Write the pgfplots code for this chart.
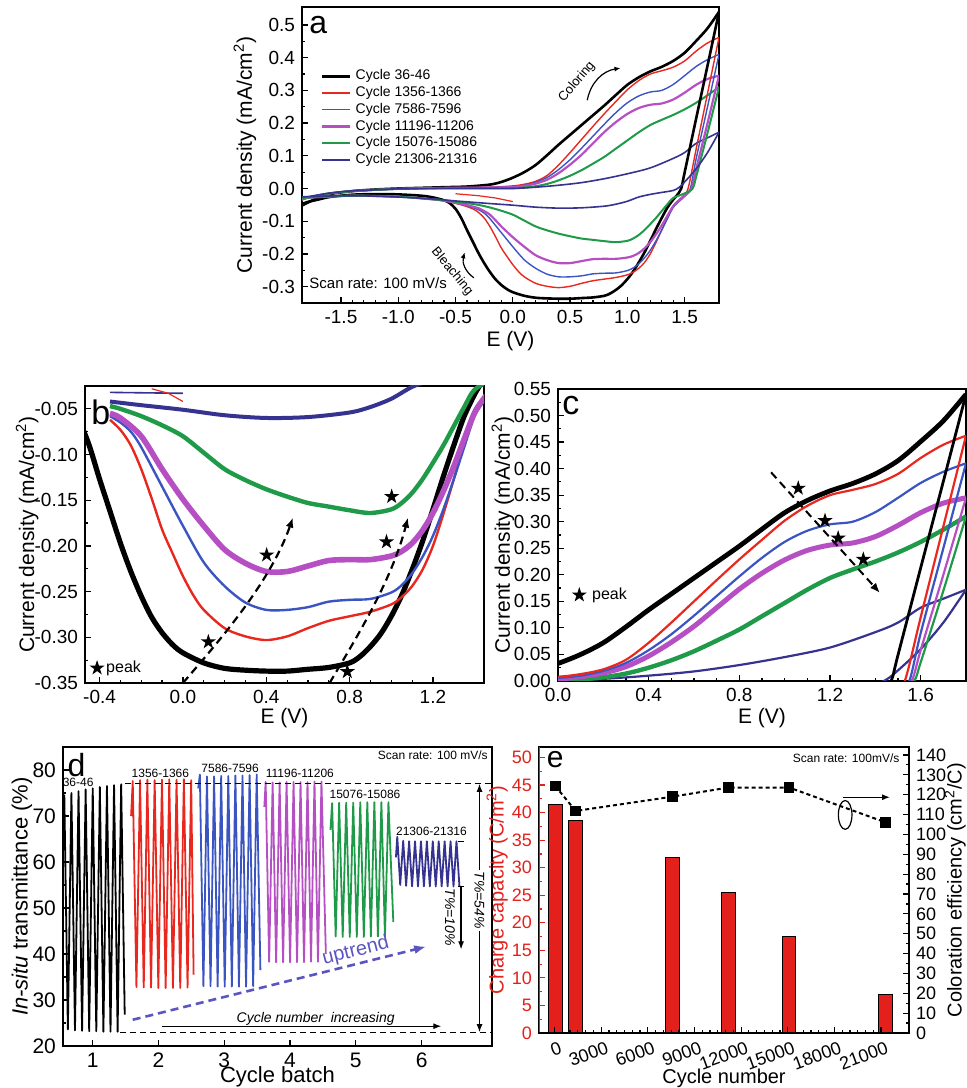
\documentclass[border=0pt]{standalone}
\usepackage{fontspec}
\setmainfont{Liberation Sans}
\usepackage{pgfplots}
\usepackage{pgfplotstable}
\pgfplotsset{compat=1.18}
\usetikzlibrary{arrows.meta}
\newcommand\fsz[1]{\fontsize{#1}{#1}\selectfont}
\definecolor{cred}{HTML}{E8281E}
\definecolor{cblue}{HTML}{3A55C2}
\definecolor{cmag}{HTML}{B64FC4}
\definecolor{cgreen}{HTML}{1E9A48}
\definecolor{cnavy}{HTML}{35338F}
\definecolor{cup}{HTML}{5A55C0}
\definecolor{cbar}{HTML}{E3201B}

\pgfdeclareplotmark{fstar}{%
 \pgfpathmoveto{\pgfpoint{0pt}{\pgfplotmarksize}}%
 \pgfpathlineto{\pgfpoint{-0.2245\pgfplotmarksize}{0.309\pgfplotmarksize}}%
 \pgfpathlineto{\pgfpoint{-0.951\pgfplotmarksize}{0.309\pgfplotmarksize}}%
 \pgfpathlineto{\pgfpoint{-0.363\pgfplotmarksize}{-0.118\pgfplotmarksize}}%
 \pgfpathlineto{\pgfpoint{-0.588\pgfplotmarksize}{-0.809\pgfplotmarksize}}%
 \pgfpathlineto{\pgfpoint{0pt}{-0.382\pgfplotmarksize}}%
 \pgfpathlineto{\pgfpoint{0.588\pgfplotmarksize}{-0.809\pgfplotmarksize}}%
 \pgfpathlineto{\pgfpoint{0.363\pgfplotmarksize}{-0.118\pgfplotmarksize}}%
 \pgfpathlineto{\pgfpoint{0.951\pgfplotmarksize}{0.309\pgfplotmarksize}}%
 \pgfpathlineto{\pgfpoint{0.2245\pgfplotmarksize}{0.309\pgfplotmarksize}}%
 \pgfpathclose\pgfusepathqfill}

% ---------- CV data (forward F and reverse R branches) ----------
\pgfplotstableread{
x y
-1.84 -0.052
-1.8 -0.045
-1.7 -0.028
-1.6 -0.017
-1.4 -0.008
-1.2 -0.003
-1.0 0.0
-0.8 0.002
-0.6 0.004
-0.4 0.006
-0.2 0.012
-0.1 0.02
0.0 0.033
0.1 0.05
0.2 0.072
0.3 0.102
0.4 0.134
0.5 0.164
0.6 0.194
0.7 0.224
0.8 0.254
0.9 0.286
1.0 0.317
1.1 0.34
1.2 0.358
1.3 0.372
1.4 0.39
1.5 0.415
1.6 0.451
1.7 0.49
1.8 0.54
}\bkF
\pgfplotstableread{
x y
1.8 0.54
1.7 0.376
1.6 0.213
1.5 0.049
1.47 0.0
1.43 -0.022
1.4 -0.034
1.35 -0.058
1.3 -0.09
1.25 -0.124
1.2 -0.16
1.15 -0.195
1.1 -0.226
1.05 -0.254
1.0 -0.277
0.95 -0.296
0.9 -0.31
0.85 -0.321
0.8 -0.328
0.7 -0.333
0.6 -0.335
0.5 -0.337
0.4 -0.337
0.3 -0.336
0.2 -0.334
0.1 -0.328
0.0 -0.317
-0.05 -0.308
-0.1 -0.295
-0.15 -0.278
-0.2 -0.255
-0.25 -0.228
-0.3 -0.197
-0.35 -0.162
-0.4 -0.127
-0.45 -0.09
-0.5 -0.062
-0.55 -0.045
-0.6 -0.036
-0.7 -0.027
-0.8 -0.022
-1.0 -0.018
-1.2 -0.017
-1.4 -0.019
-1.6 -0.026
-1.7 -0.034
-1.8 -0.042
-1.84 -0.048
}\bkR
\pgfplotstableread{
x y
-1.84 -0.036
-1.8 -0.03
-1.6 -0.016
-1.4 -0.008
-1.2 -0.004
-1.0 -0.001
-0.6 0.002
-0.2 0.004
0.0 0.008
0.1 0.013
0.2 0.022
0.3 0.04
0.4 0.072
0.5 0.11
0.6 0.15
0.7 0.19
0.8 0.229
0.9 0.266
1.0 0.302
1.1 0.33
1.2 0.35
1.3 0.36
1.4 0.371
1.5 0.39
1.6 0.42
1.7 0.445
1.8 0.462
}\rdF
\pgfplotstableread{
x y
1.8 0.462
1.7 0.291
1.6 0.12
1.53 0.0
1.48 -0.025
1.44 -0.038
1.4 -0.054
1.35 -0.088
1.3 -0.127
1.25 -0.165
1.2 -0.2
1.15 -0.226
1.1 -0.244
1.05 -0.256
1.0 -0.264
0.9 -0.272
0.8 -0.277
0.7 -0.282
0.6 -0.29
0.5 -0.299
0.4 -0.303
0.3 -0.299
0.2 -0.29
0.1 -0.27
0.05 -0.254
0.0 -0.233
-0.05 -0.208
-0.1 -0.182
-0.15 -0.148
-0.2 -0.116
-0.25 -0.09
-0.3 -0.073
-0.35 -0.062
-0.45 -0.05
-0.6 -0.038
-0.8 -0.03
-1.0 -0.025
-1.4 -0.022
-1.8 -0.028
-1.84 -0.03
}\rdR
\pgfplotstableread{
x y
-1.84 -0.034
-1.8 -0.029
-1.6 -0.015
-1.4 -0.008
-1.2 -0.004
-1.0 -0.001
-0.6 0.002
-0.2 0.003
0.0 0.006
0.1 0.01
0.2 0.019
0.3 0.034
0.4 0.058
0.5 0.088
0.6 0.123
0.7 0.16
0.8 0.197
0.9 0.232
1.0 0.262
1.1 0.283
1.2 0.295
1.3 0.3
1.4 0.318
1.5 0.345
1.6 0.373
1.7 0.394
1.8 0.41
}\blF
\pgfplotstableread{
x y
1.8 0.41
1.7 0.25
1.6 0.09
1.55 0.0
1.5 -0.024
1.45 -0.04
1.4 -0.058
1.35 -0.092
1.3 -0.127
1.25 -0.16
1.2 -0.189
1.15 -0.212
1.1 -0.23
1.05 -0.243
1.0 -0.251
0.9 -0.258
0.8 -0.259
0.7 -0.261
0.6 -0.267
0.5 -0.27
0.4 -0.27
0.3 -0.262
0.2 -0.244
0.1 -0.218
0.0 -0.178
-0.1 -0.135
-0.2 -0.092
-0.25 -0.075
-0.3 -0.065
-0.35 -0.058
-0.45 -0.048
-0.6 -0.037
-0.8 -0.03
-1.0 -0.025
-1.4 -0.022
-1.8 -0.028
-1.84 -0.03
}\blR
\pgfplotstableread{
x y
-1.84 -0.034
-1.8 -0.029
-1.6 -0.015
-1.4 -0.008
-1.2 -0.004
-1.0 -0.001
-0.6 0.002
-0.2 0.003
0.0 0.004
0.1 0.008
0.2 0.015
0.3 0.027
0.4 0.047
0.5 0.073
0.6 0.103
0.7 0.138
0.8 0.173
0.9 0.203
1.0 0.228
1.1 0.246
1.2 0.256
1.3 0.26
1.4 0.272
1.5 0.293
1.6 0.317
1.7 0.335
1.8 0.345
}\mgF
\pgfplotstableread{
x y
1.8 0.345
1.7 0.2
1.6 0.058
1.56 0.0
1.5 -0.022
1.44 -0.04
1.4 -0.054
1.35 -0.083
1.3 -0.113
1.25 -0.14
1.2 -0.164
1.15 -0.183
1.1 -0.197
1.05 -0.206
1.0 -0.211
0.9 -0.215
0.8 -0.215
0.7 -0.216
0.6 -0.222
0.5 -0.228
0.4 -0.228
0.3 -0.219
0.2 -0.204
0.1 -0.178
0.0 -0.149
-0.1 -0.116
-0.2 -0.08
-0.3 -0.06
-0.35 -0.055
-0.45 -0.047
-0.6 -0.037
-0.8 -0.03
-1.0 -0.025
-1.4 -0.022
-1.8 -0.028
-1.84 -0.03
}\mgR
\pgfplotstableread{
x y
-1.84 -0.034
-1.8 -0.029
-1.6 -0.015
-1.4 -0.008
-1.2 -0.004
-1.0 -0.001
-0.6 0.001
-0.2 0.001
0.0 0.001
0.1 0.003
0.2 0.007
0.3 0.014
0.4 0.025
0.5 0.039
0.6 0.056
0.7 0.076
0.8 0.097
0.9 0.122
1.0 0.147
1.1 0.172
1.2 0.194
1.3 0.21
1.4 0.225
1.5 0.242
1.6 0.262
1.7 0.285
1.8 0.31
}\grF
\pgfplotstableread{
x y
1.8 0.31
1.7 0.17
1.6 0.035
1.57 0.0
1.5 -0.015
1.4 -0.029
1.35 -0.048
1.3 -0.069
1.25 -0.09
1.2 -0.109
1.15 -0.127
1.1 -0.142
1.05 -0.153
1.0 -0.16
0.9 -0.164
0.8 -0.161
0.7 -0.157
0.6 -0.153
0.5 -0.146
0.4 -0.138
0.3 -0.128
0.2 -0.116
0.1 -0.098
0.0 -0.08
-0.1 -0.068
-0.2 -0.058
-0.3 -0.05
-0.35 -0.047
-0.45 -0.043
-0.6 -0.036
-0.8 -0.03
-1.0 -0.025
-1.4 -0.022
-1.8 -0.028
-1.84 -0.03
}\grR
\pgfplotstableread{
x y
-1.84 -0.03
-1.8 -0.026
-1.6 -0.014
-1.4 -0.007
-1.2 -0.004
-1.0 -0.001
-0.6 0.0
-0.2 0.0
0.0 0.0
0.2 0.004
0.4 0.01
0.6 0.018
0.8 0.03
1.0 0.045
1.2 0.063
1.4 0.092
1.5 0.11
1.6 0.138
1.7 0.155
1.8 0.172
}\nvF
\pgfplotstableread{
x y
1.8 0.172
1.7 0.11
1.6 0.06
1.5 0.02
1.45 0.003
1.4 -0.006
1.3 -0.012
1.2 -0.018
1.1 -0.026
1.0 -0.039
0.9 -0.048
0.8 -0.054
0.6 -0.059
0.4 -0.06
0.2 -0.057
0.0 -0.051
-0.2 -0.046
-0.35 -0.042
-0.5 -0.038
-0.7 -0.032
-1.0 -0.026
-1.4 -0.022
-1.8 -0.025
-1.84 -0.027
}\nvR

\pgfplotsset{
 myax/.style={scale only axis, axis line style={line width=1.1pt},
   tick style={black, line width=0.6pt}, major tick length=3pt, minor tick length=1.6pt,
   tick align=inside, xtick pos=bottom, ytick pos=left,
   ticklabel style={font=\fsz{9.5}}, label style={font=\fsz{10.5}},
   /pgf/number format/assume math mode=true, /pgf/number format/1000 sep={},
   scaled ticks=false, clip=true},
 p1/.style={/pgf/number format/.cd, fixed, fixed zerofill, precision=1},
 p2/.style={/pgf/number format/.cd, fixed, fixed zerofill, precision=2},
}

\begin{document}
\begin{tikzpicture}
\path[use as bounding box] (0,0) rectangle (483.5pt,544pt);

% ================= panel a =================
\begin{axis}[myax, at={(151pt,540.5pt)}, anchor=north west, width=208.5pt, height=148pt,
  xmin=-1.84, xmax=1.8, ymin=-0.35, ymax=0.555,
  xtick={-1.5,-1,-0.5,0,0.5,1,1.5}, ytick={-0.3,-0.2,-0.1,0,0.1,0.2,0.3,0.4,0.5},
  minor x tick num=4, minor y tick num=1,
  xticklabel style={p1}, yticklabel style={p1},
  xlabel={E (V)}, ylabel={Current density (mA/cm\textsuperscript{2})},
  xlabel style={at={(axis description cs:0.5,-0.128)}, anchor=center},
  ylabel style={at={(axis description cs:-0.137,0.5)}, anchor=center},
  legend style={at={(rel axis cs:0.04,0.81)}, anchor=north west, draw=none, fill=none,
     font=\fsz{7}, row sep=-2.2pt, inner sep=1pt},
  legend cell align=left,
  legend image code/.code={\draw[#1] (0pt,0pt) -- (14pt,0pt);},
]
\addplot[black, line width=1.3pt, smooth] table {\bkF}; \addlegendentry{Cycle 36-46}
\addplot[cred, line width=0.7pt, smooth] table {\rdF}; \addlegendentry{Cycle 1356-1366}
\addplot[cblue, line width=0.7pt, smooth] table {\blF}; \addlegendentry{Cycle 7586-7596}
\addplot[cmag, line width=1.1pt, smooth] table {\mgF}; \addlegendentry{Cycle 11196-11206}
\addplot[cgreen, line width=1.0pt, smooth] table {\grF}; \addlegendentry{Cycle 15076-15086}
\addplot[cnavy, line width=0.8pt, smooth] table {\nvF}; \addlegendentry{Cycle 21306-21316}
\addplot[black, line width=1.3pt, smooth, forget plot] table {\bkR};
\addplot[cred, line width=0.7pt, smooth, forget plot] table {\rdR};
\addplot[cblue, line width=0.7pt, smooth, forget plot] table {\blR};
\addplot[cmag, line width=1.1pt, smooth, forget plot] table {\mgR};
\addplot[cgreen, line width=1.0pt, smooth, forget plot] table {\grR};
\addplot[cnavy, line width=0.8pt, smooth, forget plot] table {\nvR};
\addplot[cred, line width=0.6pt, forget plot] coordinates {(-0.5,-0.016) (-0.3,-0.022) (-0.15,-0.029) (0.0,-0.04)};
\node[anchor=base west, font=\fsz{16}, inner sep=0pt] at (rel axis cs:0.017,0.912) {a};
\node[anchor=west, font=\fsz{7.5}, inner sep=0pt] at (rel axis cs:0.017,0.068) {Scan rate: 100 mV/s};
\node[rotate=50, font=\fsz{6.5}] at (axis cs:0.56,0.326) {Coloring};
\draw[-{Latex[length=3pt,width=2.5pt]}, line width=0.6pt] (axis cs:0.65,0.27) to[bend left=35] (axis cs:0.94,0.368);
\node[rotate=-50, font=\fsz{6.5}] at (axis cs:-0.53,-0.254) {Bleaching};
\draw[-{Latex[length=3pt,width=2.5pt]}, line width=0.6pt] (axis cs:-0.34,-0.273) to[bend left=35] (axis cs:-0.42,-0.195);
\end{axis}

% ================= panel b =================
\begin{axis}[myax, at={(42.5pt,351pt)}, anchor=north west, width=199.5pt, height=148.5pt,
  xmin=-0.47, xmax=1.445, ymin=-0.35, ymax=-0.025,
  xtick={-0.4,0,0.4,0.8,1.2}, ytick={-0.35,-0.3,-0.25,-0.2,-0.15,-0.1,-0.05},
  minor x tick num=3, minor y tick num=1,
  xticklabel style={p1}, yticklabel style={p2},
  xlabel={E (V)}, ylabel={Current density (mA/cm\textsuperscript{2})},
  xlabel style={at={(axis description cs:0.5,-0.118)}, anchor=center},
  ylabel style={at={(axis description cs:-0.145,0.5)}, anchor=center},
]
\addplot[black, line width=2.6pt, smooth] table {\bkR};
\addplot[cred, line width=1.2pt, smooth, restrict x to domain=-0.36:2] table {\rdR};
\addplot[cblue, line width=1.2pt, smooth, restrict x to domain=-0.36:2] table {\blR};
\addplot[cmag, line width=2.8pt, smooth, restrict x to domain=-0.36:2] table {\mgR};
\addplot[cgreen, line width=2.2pt, smooth, restrict x to domain=-0.36:2] table {\grR};
\addplot[cnavy, line width=2.0pt, smooth, restrict x to domain=-0.36:2] table {\nvR};
\addplot[cnavy, line width=0.8pt] coordinates {(-0.35,-0.032) (0.0,-0.033)};
\addplot[cred, line width=0.6pt] coordinates {(-0.15,-0.028) (-0.07,-0.033) (0.0,-0.042)};
\addplot[only marks, mark=fstar, mark size=4pt, black] coordinates {(0.122,-0.305) (0.402,-0.21) (0.789,-0.3376) (0.977,-0.1956) (1.002,-0.146) (-0.412,-0.3336)};
\node[anchor=west, font=\fsz{8}, inner sep=0pt] at (axis cs:-0.37,-0.3336) {peak};
\draw[dash pattern=on 4pt off 2.5pt, line width=1.1pt, -{Latex[length=5pt,width=4pt]}] (axis cs:0.0,-0.35) .. controls (axis cs:0.17,-0.305) and (axis cs:0.42,-0.24) .. (axis cs:0.528,-0.169);
\draw[dash pattern=on 4pt off 2.5pt, line width=1.1pt, -{Latex[length=5pt,width=4pt]}] (axis cs:0.704,-0.35) .. controls (axis cs:0.82,-0.305) and (axis cs:1.0,-0.24) .. (axis cs:1.08,-0.169);
\node[anchor=base west, font=\fsz{17}, inner sep=0pt] at (rel axis cs:0.015,0.869) {b};
\end{axis}

% ================= panel c =================
\begin{axis}[myax, at={(279pt,349.5pt)}, anchor=north west, width=204pt, height=146pt,
  xmin=0, xmax=1.8, ymin=0, ymax=0.55,
  xtick={0,0.4,0.8,1.2,1.6}, ytick={0,0.05,0.1,0.15,0.2,0.25,0.3,0.35,0.4,0.45,0.5,0.55},
  minor x tick num=3, minor y tick num=1,
  xticklabel style={p1}, yticklabel style={p2},
  xlabel={E (V)}, ylabel={Current density (mA/cm\textsuperscript{2})},
  xlabel style={at={(axis description cs:0.5,-0.127)}, anchor=center},
  ylabel style={at={(axis description cs:-0.135,0.5)}, anchor=center},
]
\addplot[cnavy, line width=1.1pt, smooth] table {\nvF};
\addplot[cnavy, line width=1.1pt, smooth] table {\nvR};
\addplot[cgreen, line width=2.2pt, smooth] table {\grF};
\addplot[cgreen, line width=1.1pt, smooth] table {\grR};
\addplot[cmag, line width=2.5pt, smooth] table {\mgF};
\addplot[cmag, line width=1.1pt, smooth] table {\mgR};
\addplot[cblue, line width=1.1pt, smooth] table {\blF};
\addplot[cblue, line width=1.1pt, smooth] table {\blR};
\addplot[cred, line width=1.1pt, smooth] table {\rdF};
\addplot[cred, line width=1.1pt, smooth] table {\rdR};
\addplot[black, line width=2.4pt, smooth] table {\bkF};
\addplot[black, line width=1.4pt, smooth] table {\bkR};
\addplot[only marks, mark=fstar, mark size=4pt, black] coordinates {(1.06,0.363) (1.178,0.302) (1.236,0.269) (1.347,0.229) (0.094,0.162)};
\node[anchor=west, font=\fsz{8}, inner sep=0pt] at (axis cs:0.149,0.162) {peak};
\draw[dash pattern=on 4pt off 2.5pt, line width=1.0pt, -{Latex[length=5pt,width=4pt]}] (axis cs:0.94,0.393) -- (axis cs:1.42,0.166);
\node[anchor=base west, font=\fsz{17}, inner sep=0pt] at (rel axis cs:0.01,0.911) {c};
\end{axis}

% ================= panel d =================
\begin{axis}[myax, at={(31.5pt,170.5pt)}, anchor=north west, width=214.5pt, height=149.5pt,
  xmin=0.55, xmax=7.07, ymin=20, ymax=85,
  xtick={1,2,3,4,5,6}, ytick={20,30,40,50,60,70,80}, minor y tick num=1,
  ticklabel style={font=\fsz{10.5}}, label style={font=\fsz{11}},
  xlabel={Cycle batch}, ylabel={\textit{In-situ} transmittance (\%)},
  xlabel style={at={(axis description cs:0.5,-0.104)}, anchor=center},
  ylabel style={at={(axis description cs:-0.096,0.5)}, anchor=center},
  every axis plot/.append style={line width=0.9pt, line join=round},
]
\addplot[black] coordinates {(0.556,71) (0.570,74.5) (0.624,23.6) (0.678,75.0) (0.732,23.4) (0.786,75.4) (0.840,23.3) (0.894,75.8) (0.948,23.2) (1.002,76.0) (1.056,23.2) (1.110,76.3) (1.164,23.1) (1.218,76.5) (1.272,23.1) (1.326,76.7) (1.380,23.1) (1.434,76.9) (1.488,26.8)};
\addplot[cred] coordinates {(1.585,70) (1.610,77.6) (1.666,32.8) (1.721,77.8) (1.777,32.7) (1.832,77.9) (1.888,32.7) (1.943,77.8) (1.999,32.6) (2.054,77.9) (2.110,32.6) (2.165,78.0) (2.221,32.6) (2.276,77.9) (2.332,32.6) (2.387,78.0) (2.443,32.7) (2.498,77.8) (2.535,35.5)};
\addplot[cblue] coordinates {(2.605,76) (2.630,79.0) (2.684,33.0) (2.738,78.6) (2.792,33.0) (2.846,78.6) (2.900,32.9) (2.954,78.7) (3.008,32.9) (3.062,78.7) (3.116,32.9) (3.170,78.8) (3.224,32.9) (3.278,78.8) (3.332,32.9) (3.386,78.9) (3.440,33.0) (3.494,79.0) (3.550,36.5)};
\addplot[cmag] coordinates {(3.610,72) (3.630,77.4) (3.683,38.3) (3.736,77.3) (3.789,38.2) (3.842,77.3) (3.895,38.2) (3.948,77.4) (4.001,38.2) (4.054,77.4) (4.107,38.2) (4.160,77.4) (4.213,38.2) (4.266,77.4) (4.319,38.3) (4.372,77.5) (4.425,38.3) (4.478,77.5) (4.545,40)};
\addplot[cgreen] coordinates {(4.615,67) (4.640,72.8) (4.694,43.8) (4.747,72.9) (4.801,43.7) (4.854,72.9) (4.908,43.7) (4.961,72.9) (5.015,43.7) (5.068,73.0) (5.122,43.7) (5.175,73.0) (5.229,43.8) (5.282,73.0) (5.336,43.8) (5.389,73.0) (5.443,43.8) (5.496,73.0) (5.570,47)};
\addplot[cnavy] coordinates {(5.610,61) (5.630,65.5) (5.675,55.0) (5.720,64.6) (5.765,54.8) (5.810,64.5) (5.855,54.7) (5.900,64.5) (5.945,54.7) (5.990,64.5) (6.035,54.7) (6.080,64.5) (6.125,54.7) (6.170,64.5) (6.215,54.7) (6.260,64.5) (6.305,54.7) (6.350,64.5) (6.395,54.7) (6.440,64.5) (6.485,54.7) (6.530,64.5) (6.575,54.7)};
\draw[densely dashed, line width=0.7pt] (axis cs:1.49,77) -- (axis cs:7.07,77);
\draw[densely dashed, line width=0.7pt] (axis cs:1.42,22.9) -- (axis cs:7.07,22.9);
\draw[densely dashed, line width=0.6pt] (axis cs:6.55,64.5) -- (axis cs:6.67,64.5);
\draw[densely dashed, line width=0.6pt] (axis cs:6.55,54.7) -- (axis cs:6.67,54.7);
\draw[{Latex[length=4pt,width=3pt]}-{Latex[length=4pt,width=3pt]}, line width=0.6pt] (axis cs:6.88,77) -- (axis cs:6.88,23);
\node[rotate=-90, fill=white, inner sep=1pt, font=\fsz{7}\itshape] at (axis cs:6.88,51.7) {T\%=54\%};
\draw[-{Latex[length=4pt,width=3pt]}, line width=0.6pt] (axis cs:6.6,54.7) -- (axis cs:6.6,41);
\node[rotate=-90, font=\fsz{7}\itshape] at (axis cs:6.43,48) {T\%=10\%};
\draw[-{Latex[length=4pt,width=3pt]}, line width=0.6pt] (axis cs:2.05,24.3) -- (axis cs:6.3,24.3);
\node[font=\fsz{7}\itshape, inner sep=0pt] at (axis cs:4.39,25.8) {Cycle number\ \ increasing};
\draw[cup, dash pattern=on 4pt off 2.5pt, line width=1.3pt, -{Latex[length=6pt,width=4.5pt]}] (axis cs:1.61,25.7) -- (axis cs:6.07,41.6);
\node[cup, rotate=14, font=\fsz{10}] at (axis cs:5.0,40.6) {uptrend};
\node[font=\fsz{6}] at (axis cs:0.78,77.3) {36-46};
\node[font=\fsz{6}] at (axis cs:2.03,79.2) {1356-1366};
\node[font=\fsz{6}] at (axis cs:3.09,80.3) {7586-7596};
\node[font=\fsz{6}] at (axis cs:4.15,79.3) {11196-11206};
\node[font=\fsz{6}] at (axis cs:5.14,74.6) {15076-15086};
\node[font=\fsz{6}] at (axis cs:6.15,66.6) {21306-21316};
\node[font=\fsz{6}] at (rel axis cs:0.862,0.972) {Scan rate: 100 mV/s};
\node[anchor=base west, font=\fsz{16}, inner sep=0pt] at (rel axis cs:0.01,0.9) {d};
\end{axis}

% ================= panel e =================
\begin{axis}[myax, at={(269.5pt,170.5pt)}, anchor=north west, width=185pt, height=143pt,
  xmin=-1000, xmax=22800, ymin=0, ymax=51.9,
  xtick=\empty, ytick={0,5,10,15,20,25,30,35,40,45,50}, minor y tick num=1,
  tick style={cbar, line width=0.6pt},
  ticklabel style={font=\fsz{9}}, yticklabel style={text=cbar},
  ylabel={Charge capacity (C/m\textsuperscript{2})}, label style={font=\fsz{10}},
  ylabel style={at={(axis description cs:-0.113,0.5)}, anchor=center, text=cbar},
]
\addplot[ybar, bar width=900, bar shift=0pt, fill=cbar, draw=black, line width=0.5pt] coordinates {(41,41.5) (1361,38.5) (7591,31.9) (11201,25.5) (15081,17.6) (21311,6.9)};
\draw[cbar, line width=1.1pt] (rel axis cs:0,0) -- (rel axis cs:0,1);
\node[font=\fsz{6}] at (rel axis cs:0.83,0.96) {Scan rate: 100mV/s};
\node[anchor=base west, font=\fsz{15}, inner sep=0pt] at (rel axis cs:0.02,0.927) {e};
\end{axis}
\begin{axis}[myax, at={(269.5pt,170.5pt)}, anchor=north west, width=185pt, height=143pt,
  xmin=-1000, xmax=22800, ymin=0, ymax=144,
  axis x line*=bottom, axis y line*=right, xtick pos=bottom, ytick pos=right,
  xtick={0,3000,6000,9000,12000,15000,18000,21000}, minor x tick num=5,
  ytick={0,10,20,30,40,50,60,70,80,90,100,110,120,130,140}, minor y tick num=1,
  ticklabel style={font=\fsz{9}}, label style={font=\fsz{10}},
  xticklabel style={rotate=20, anchor=north east, xshift=4pt, yshift=-1pt},
  xlabel={Cycle number}, ylabel={Coloration efficiency (cm\textsuperscript{2}/C)},
  xlabel style={at={(axis description cs:0.5,-0.16)}, anchor=center},
  ylabel style={at={(axis description cs:1.125,0.5)}, anchor=center},
]
\addplot[black, line width=1.0pt, dash pattern=on 2pt off 1.5pt, mark=square*, mark size=2.2pt, mark options={solid}] coordinates {(41,124.4) (1361,111.8) (7591,119) (11201,123.6) (15081,123.6) (21311,106)};
\draw[line width=0.6pt] (axis cs:18694,109.8) ellipse [x radius=3.4pt, y radius=7.2pt];
\draw[-{Latex[length=4pt,width=3pt]}, line width=0.7pt] (axis cs:18580,118.7) -- (axis cs:21588,118.7);
\end{axis}
\end{tikzpicture}
\end{document}
